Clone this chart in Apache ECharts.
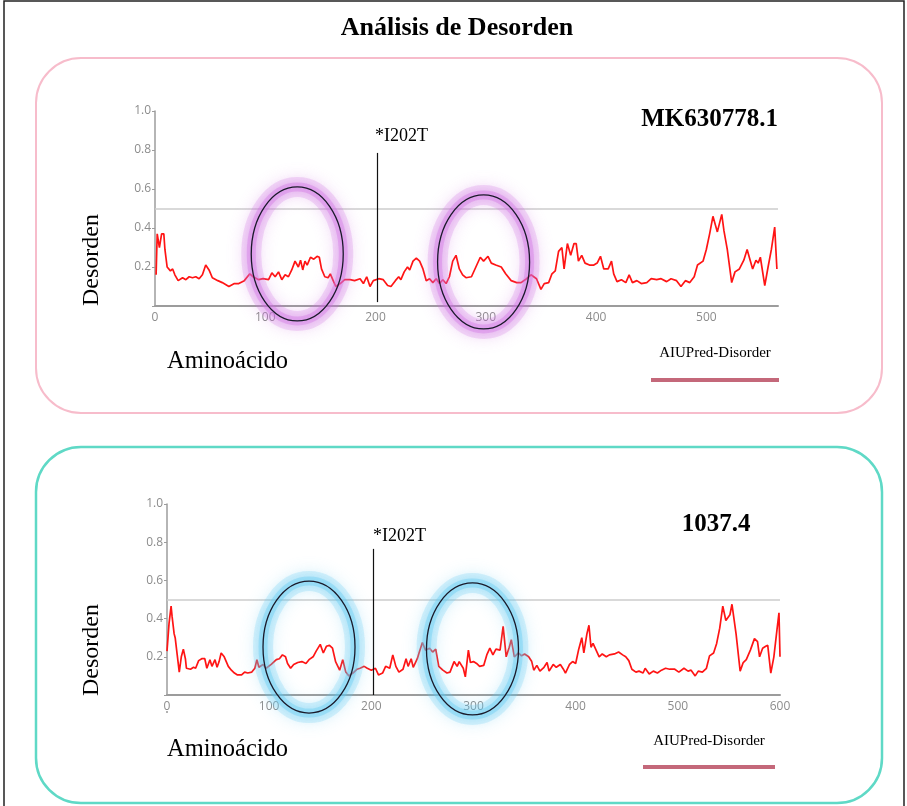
<!DOCTYPE html>
<html><head><meta charset="utf-8">
<script src="https://cdn.jsdelivr.net/npm/echarts/dist/echarts.min.js"></script>
<style>html,body{margin:0;padding:0;background:#fff}#c{width:907px;height:806px}</style>
</head><body><div id="c"></div><script>
// ---- data (position, disorder score) ----
const mainTitle = 'Análisis de Desorden';
const panelNames = ['MK630778.1', '1037.4'];
const mutationPos = 202;
const mutationLabel = '*I202T';
const threshold = 0.5;
const xMaxTop = 565;
const xMaxBottom = 600;
const yTicks = [0.2, 0.4, 0.6, 0.8, 1.0];
const mk630778 = [[1,0.16],[2,0.37],[4,0.30],[6,0.37],[8,0.37],[9,0.29],[11,0.20],[14,0.18],[16,0.19],[18,0.16],[21,0.13],[25,0.145],[28,0.135],[31,0.15],[34,0.145],[37,0.15],[40,0.14],[43,0.16],[46,0.21],[49,0.185],[52,0.145],[57,0.13],[61,0.12],[67,0.10],[72,0.115],[76,0.115],[81,0.13],[86,0.165],[89,0.15],[94,0.135],[98,0.14],[103,0.135],[106,0.17],[109,0.15],[112,0.175],[115,0.135],[118,0.16],[121,0.15],[124,0.185],[127,0.23],[130,0.20],[132,0.235],[134,0.185],[136,0.23],[138,0.21],[141,0.25],[144,0.24],[147,0.255],[149,0.25],[151,0.19],[154,0.15],[157,0.145],[159,0.165],[162,0.125],[164,0.10],[168,0.115],[172,0.135],[177,0.135],[181,0.13],[186,0.14],[189,0.115],[192,0.15],[195,0.10],[198,0.13],[203,0.14],[207,0.135],[211,0.105],[214,0.10],[218,0.13],[221,0.15],[223,0.135],[226,0.175],[229,0.20],[231,0.185],[234,0.23],[237,0.245],[240,0.23],[243,0.19],[246,0.13],[249,0.14],[252,0.12],[255,0.14],[258,0.115],[261,0.135],[264,0.115],[267,0.15],[270,0.23],[273,0.26],[276,0.19],[279,0.16],[282,0.145],[287,0.15],[291,0.20],[295,0.25],[298,0.23],[302,0.255],[305,0.22],[309,0.21],[314,0.20],[318,0.165],[323,0.13],[328,0.12],[332,0.12],[337,0.14],[341,0.16],[346,0.14],[350,0.085],[353,0.115],[357,0.12],[360,0.165],[363,0.18],[366,0.28],[369,0.30],[371,0.19],[374,0.32],[377,0.26],[380,0.32],[382,0.32],[384,0.23],[387,0.26],[390,0.22],[394,0.21],[398,0.21],[401,0.22],[404,0.255],[407,0.19],[411,0.19],[414,0.23],[416,0.165],[419,0.125],[423,0.135],[427,0.12],[430,0.16],[433,0.12],[437,0.13],[441,0.115],[446,0.12],[450,0.14],[455,0.135],[459,0.14],[464,0.125],[468,0.14],[473,0.13],[477,0.10],[481,0.13],[485,0.12],[489,0.15],[492,0.21],[497,0.23],[500,0.29],[503,0.37],[506,0.46],[510,0.38],[514,0.47],[516,0.385],[519,0.29],[523,0.12],[526,0.175],[530,0.19],[534,0.235],[537,0.29],[540,0.23],[542,0.19],[545,0.235],[547,0.22],[549,0.25],[553,0.105],[556,0.20],[559,0.29],[562,0.405],[564,0.19]];
const s1037 = [[0,0.23],[2,0.375],[4,0.465],[5,0.41],[7,0.32],[8,0.30],[10,0.21],[12,0.12],[14,0.20],[16,0.24],[18,0.19],[19,0.14],[23,0.135],[26,0.145],[28,0.14],[31,0.18],[34,0.19],[37,0.19],[39,0.14],[42,0.185],[44,0.15],[47,0.185],[49,0.145],[51,0.175],[53,0.22],[56,0.20],[60,0.15],[63,0.13],[66,0.115],[69,0.105],[73,0.105],[76,0.12],[79,0.115],[83,0.12],[86,0.14],[88,0.185],[90,0.145],[94,0.16],[97,0.14],[102,0.16],[107,0.185],[110,0.19],[113,0.21],[116,0.20],[118,0.165],[121,0.14],[124,0.16],[128,0.17],[132,0.175],[136,0.165],[139,0.185],[143,0.20],[146,0.23],[150,0.265],[153,0.22],[156,0.255],[159,0.26],[162,0.245],[165,0.175],[169,0.13],[172,0.185],[175,0.12],[178,0.10],[182,0.115],[186,0.135],[189,0.14],[193,0.15],[196,0.14],[200,0.13],[204,0.14],[207,0.105],[211,0.115],[214,0.15],[218,0.14],[221,0.21],[224,0.15],[227,0.12],[231,0.135],[234,0.19],[236,0.15],[239,0.19],[241,0.145],[245,0.19],[247,0.225],[250,0.275],[253,0.235],[257,0.245],[260,0.225],[263,0.24],[266,0.15],[270,0.13],[274,0.115],[277,0.12],[281,0.175],[284,0.15],[286,0.175],[290,0.14],[292,0.095],[295,0.235],[297,0.17],[300,0.175],[303,0.165],[306,0.15],[310,0.155],[313,0.21],[316,0.245],[319,0.21],[322,0.24],[326,0.235],[329,0.36],[332,0.20],[335,0.25],[337,0.29],[340,0.20],[344,0.22],[347,0.205],[350,0.215],[354,0.20],[357,0.175],[359,0.13],[362,0.155],[365,0.125],[369,0.145],[372,0.17],[374,0.125],[378,0.16],[381,0.145],[385,0.16],[388,0.135],[390,0.115],[394,0.16],[397,0.175],[400,0.165],[403,0.24],[406,0.30],[408,0.22],[411,0.32],[413,0.365],[415,0.25],[417,0.27],[420,0.235],[423,0.20],[426,0.215],[430,0.20],[433,0.21],[438,0.215],[442,0.225],[446,0.21],[449,0.20],[452,0.18],[455,0.135],[459,0.12],[462,0.125],[466,0.115],[468,0.14],[472,0.11],[476,0.125],[480,0.115],[484,0.13],[488,0.14],[492,0.135],[497,0.135],[501,0.12],[506,0.14],[510,0.125],[513,0.13],[517,0.10],[520,0.125],[524,0.12],[528,0.14],[531,0.205],[535,0.22],[538,0.27],[541,0.35],[544,0.465],[547,0.39],[551,0.42],[553,0.475],[557,0.32],[561,0.125],[564,0.17],[567,0.185],[571,0.235],[575,0.295],[578,0.28],[580,0.20],[583,0.245],[586,0.255],[588,0.26],[591,0.115],[594,0.20],[597,0.34],[599,0.43],[600,0.20]];
// highlighted regions: [centre position, centre score]
const regionsTop = [[129, 0.267], [298, 0.226]];
const regionsBottom = [[139, 0.251], [299, 0.241]];

const chart = echarts.init(document.getElementById('c'));
const SERIF = '"Liberation Serif","Times New Roman",serif';
const axisGray = '#9c9c9c';

function xAx(gi, max) {
  return {type:'value', gridIndex:gi, min:0, max:max, interval:100,
    axisLine:{show:true, onZero:false, lineStyle:{color:axisGray, width:2}},
    axisTick:{show:false}, splitLine:{show:false},
    axisLabel:{color:'#8c8c8c', fontSize:12, fontFamily:'Open Sans', margin:6,
      formatter: v => (v % 100 === 0 ? String(v) : '')}};
}
function yAx(gi) {
  return {type:'value', gridIndex:gi, min:0, max:1, interval:0.2,
    axisLine:{show:true, lineStyle:{color:axisGray, width:1.5}},
    axisTick:{show:true, length:3, lineStyle:{color:axisGray}}, splitLine:{show:false},
    axisLabel:{color:'#8c8c8c', fontSize:12, fontFamily:'Open Sans', margin:4,
      formatter: v => (yTicks.some(t => Math.abs(t - v) < 1e-6) ? v.toFixed(1) : '')}};
}
function ser(gi, data) {
  return {type:'line', xAxisIndex:gi, yAxisIndex:gi, data:data, symbol:'none', showSymbol:false,
    lineStyle:{color:'#ff1414', width:1.7}, itemStyle:{color:'#ff1414'}, z:3,
    markLine:{silent:true, symbol:'none', animation:false, label:{show:false},
      data:[
        {yAxis:threshold, lineStyle:{color:'#cdcdcd', width:1.5, type:'solid'}},
        [{coord:[mutationPos, gi === 0 ? 0.785 : 0.765], lineStyle:{color:'#111', width:1.2, type:'solid'}},
         {coord:[mutationPos, gi === 0 ? 0.02 : 0]}]
      ]}};
}

chart.setOption({
  animation:false,
  grid:[{left:155, top:111, width:623, height:195},{left:167, top:504, width:613, height:191}],
  xAxis:[xAx(0, xMaxTop), xAx(1, xMaxBottom)],
  yAxis:[yAx(0), yAx(1)],
  series:[ser(0, mk630778), ser(1, s1037)]
});

const g = [];
// outer border and panels
g.push({type:'rect', shape:{x:4, y:1, width:900, height:820}, style:{fill:'none', stroke:'#222', lineWidth:1.5}, z:0});
g.push({type:'rect', shape:{x:36, y:58, width:846, height:355, r:45}, style:{fill:'none', stroke:'#f7bccb', lineWidth:2}, z:0});
g.push({type:'rect', shape:{x:36, y:447, width:846, height:356, r:45}, style:{fill:'none', stroke:'#5fd9c6', lineWidth:2.5}, z:0});
// texts
g.push({type:'text', x:457, y:28, style:{text:mainTitle, font:'bold 26px '+SERIF, fill:'#000', textAlign:'center', textVerticalAlign:'middle'}, z:5});
g.push({type:'text', x:778, y:120, style:{text:panelNames[0], font:'bold 25px '+SERIF, fill:'#000', textAlign:'right', textVerticalAlign:'middle'}, z:5});
g.push({type:'text', x:716, y:525, style:{text:panelNames[1], font:'bold 25px '+SERIF, fill:'#000', textAlign:'center', textVerticalAlign:'middle'}, z:5});
[[260, 362, 353, 380, 651, 779],[650, 750, 741, 767, 643, 775]].forEach(function(p){
  g.push({type:'text', x:92, y:p[0], rotation:Math.PI/2, style:{text:'Desorden', font:'24px '+SERIF, fill:'#000', textAlign:'center', textVerticalAlign:'middle'}, z:5});
  g.push({type:'text', x:167, y:p[1], style:{text:'Aminoácido', font:'24.5px '+SERIF, fill:'#000', textAlign:'left', textVerticalAlign:'middle'}, z:5});
  g.push({type:'text', x:(p[4]+p[5])/2, y:p[2], style:{text:'AIUPred-Disorder', font:'15px '+SERIF, fill:'#000', textAlign:'center', textVerticalAlign:'middle'}, z:5});
  g.push({type:'rect', shape:{x:p[4], y:p[3]-2, width:p[5]-p[4], height:4}, style:{fill:'#c4687a'}, z:5});
});
g.push({type:'circle', shape:{cx:167, cy:712, r:1}, style:{fill:'#999'}, z:5});
// mutation labels
[[0, 0.87, 375],[1, 0.83, 373]].forEach(function(m){
  const p = chart.convertToPixel({gridIndex:m[0]}, [mutationPos, m[1]]);
  g.push({type:'text', x:m[2], y:p[1], style:{text:mutationLabel, font:'18px '+SERIF, fill:'#000', textAlign:'left', textVerticalAlign:'middle'}, z:5});
});
// highlight ellipses
function ell(gi, c, rx, ry, glow) {
  const p = chart.convertToPixel({gridIndex:gi}, c);
  g.push({type:'ellipse', shape:{cx:p[0], cy:p[1], rx:rx, ry:ry}, style:{fill:'none', stroke:glow.replace('A', '0.22'), lineWidth:20, shadowBlur:16, shadowColor:glow.replace('A','0.9')}, z:10});
  g.push({type:'ellipse', shape:{cx:p[0], cy:p[1], rx:rx, ry:ry}, style:{fill:'none', stroke:glow.replace('A', '0.35'), lineWidth:9, shadowBlur:8, shadowColor:glow.replace('A','0.8')}, z:11});
  g.push({type:'ellipse', shape:{cx:p[0], cy:p[1], rx:rx, ry:ry}, style:{fill:'none', stroke:'#1a1a2a', lineWidth:1.3}, z:12});
}
regionsTop.forEach(c => ell(0, c, 46, 67, 'rgba(205,110,225,A)'));
regionsBottom.forEach(c => ell(1, c, 46, 66, 'rgba(95,200,240,A)'));

chart.setOption({graphic:{elements:g}});
</script></body></html>
